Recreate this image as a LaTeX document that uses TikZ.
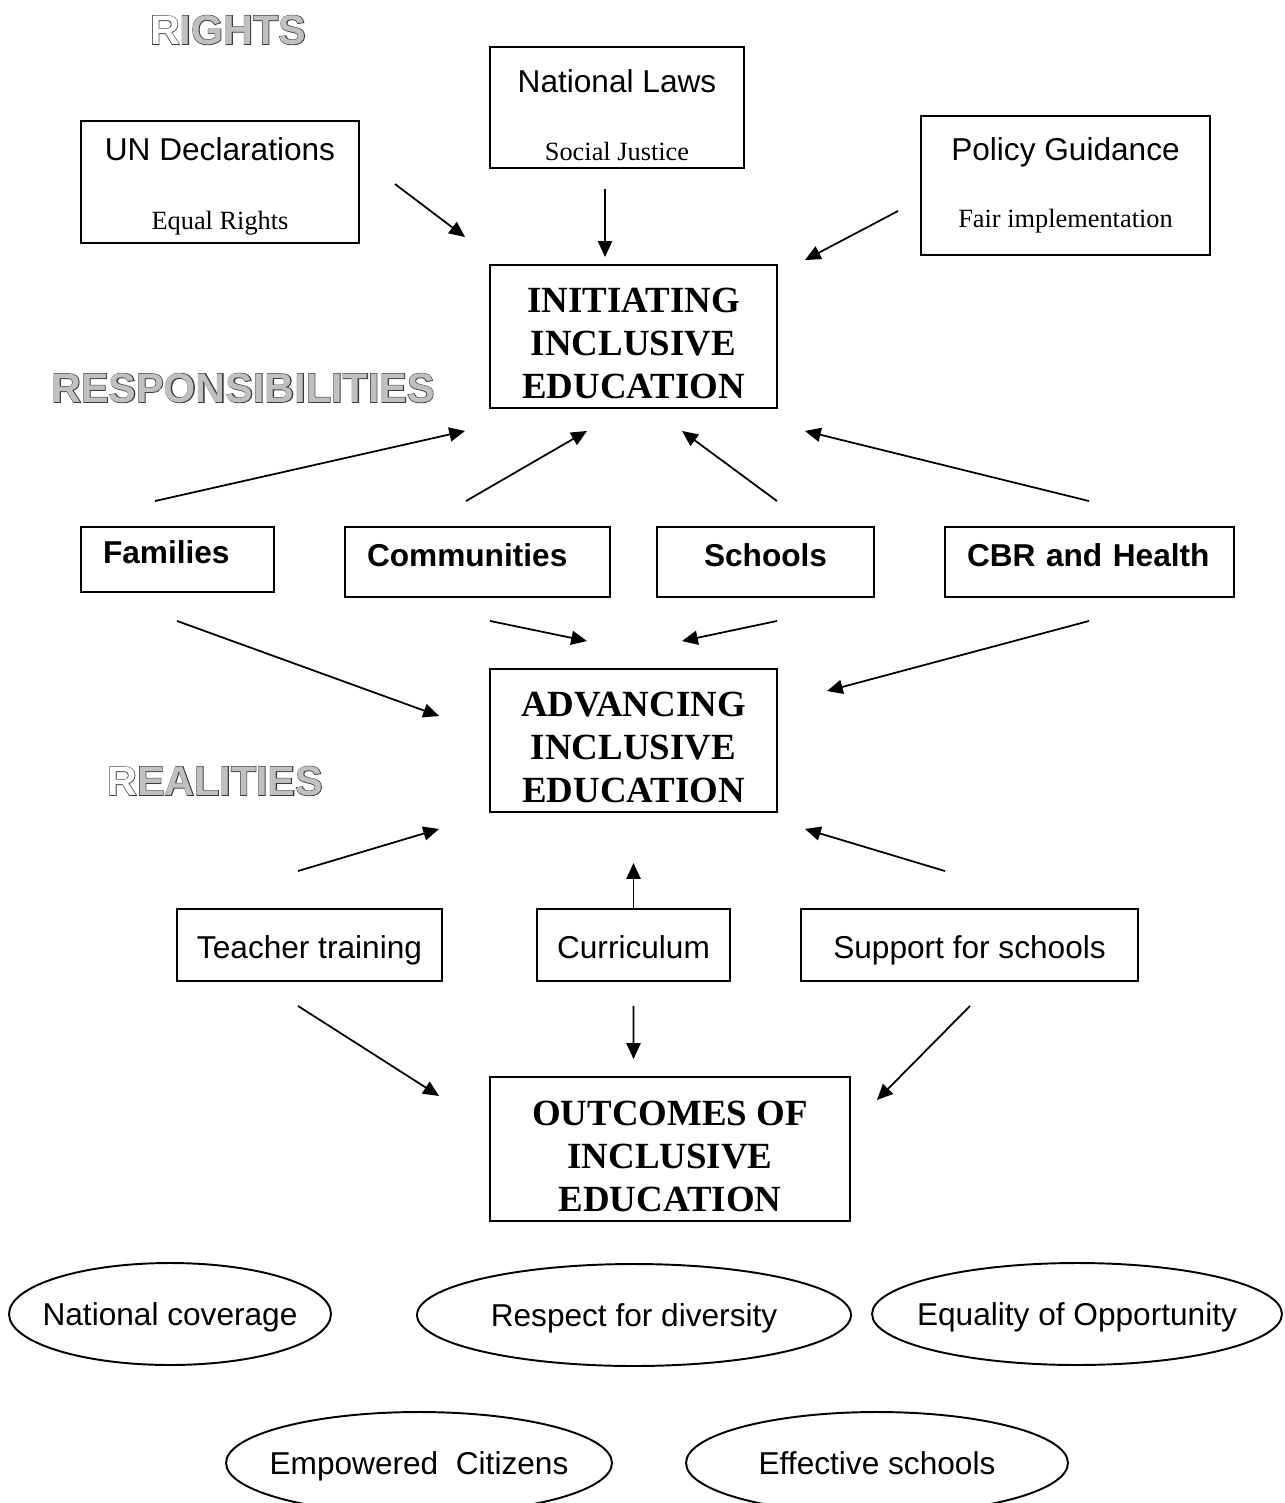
\documentclass[tikz,border=0pt]{standalone}
\usepackage{fontspec}
\setmainfont{Liberation Serif}
\setsansfont{Liberation Sans}
\newfontfamily\headfill{Liberation Sans Bold}
\newfontfamily\headrim{Liberation Sans Bold}[FakeBold=3]
\usepackage{tikz}
\usetikzlibrary{shapes.geometric,arrows.meta,positioning}
\definecolor{rimgrey}{RGB}{60,60,60}
\definecolor{fillgrey}{RGB}{192,192,192}

% outlined grey headings: a thick dark layer with the filled letters on top,
% the first letter left hollow
\newcommand{\heading}[4]{%
  \node[headtext, text=rimgrey] (#1) at #2 {\headrim #3#4};
  \node[headtext, text=fillgrey] at (#1) {\headfill\textcolor{white}{#3}#4};}
% text of zero width, so the ellipse keeps its own size
\newcommand{\goaltext}[1]{\makebox[0pt]{#1}}
% taller first line, pushes a text block a little down
\newcommand{\lowstrut}[1]{\rule{0pt}{#1}}

\begin{document}
\begin{tikzpicture}[
    x=0.02cm, y=-0.02cm,
    box/.style={rectangle, draw, line width=1.1pt, inner sep=0pt, align=center,
        font=\sffamily\fontsize{18}{21}\selectfont},
    oneline/.style={text height=17pt, text depth=2pt},
    bigbox/.style={box, font=\rmfamily\bfseries\fontsize{21}{24.4}\selectfont},
    tag/.style={box, text height=10pt, text depth=5pt, font=\sffamily\bfseries\fontsize{18}{21}\selectfont},
    goal/.style={ellipse, draw, line width=1.1pt, inner sep=0pt, text height=16pt, text depth=3pt,
        minimum height=2.04cm, font=\sffamily\fontsize{18}{21}\selectfont},
    headtext/.style={inner sep=0pt, font=\fontsize{23.5}{26}\selectfont},
    arr/.style={-{Triangle[length=9pt,width=8pt]}, line width=1pt},
]
\useasboundingbox (0,0) rectangle (1284,1503);

% headings
\heading{rights}{(228,30)}{R}{IGHTS}
\heading{resp}{(243,388)}{}{RESPONSIBILITIES}
\heading{real}{(215,781)}{R}{EALITIES}

% rights
\node[box, minimum width=5.56cm, minimum height=2.44cm] (un) at (220,182)
    {\lowstrut{18pt}UN Declarations\\[18pt]{\rmfamily\fontsize{15}{18}\selectfont Equal Rights}};
\node[box, minimum width=5.08cm, minimum height=2.42cm] (laws) at (617,107.5)
    {\lowstrut{22pt}National Laws\\[18pt]{\rmfamily\fontsize{15}{18}\selectfont Social Justice}};
\node[box, minimum width=5.78cm, minimum height=2.78cm] (policy) at (1065.5,185.5)
    {Policy Guidance\\[17pt]{\rmfamily\fontsize{15}{18}\selectfont Fair implementation}};

\node[bigbox, minimum width=5.74cm, minimum height=2.86cm] (init) at (633.5,336.5)
    {\lowstrut{22pt}INITIATING\\INCLUSIVE\\EDUCATION};

% responsibilities
\node[tag, minimum width=3.86cm, minimum height=1.30cm, text width=2.98cm, align=left] (fam) at (177.5,559.5) {Families};
\node[tag, minimum width=5.30cm, minimum height=1.40cm, text width=4.42cm, align=left] (com) at (477.5,562) {Communities};
\node[tag, minimum width=4.34cm, minimum height=1.40cm] (sch) at (765.5,562) {Schools};
\node[tag, minimum width=5.78cm, minimum height=1.40cm, text width=4.90cm, align=left] (cbr) at (1089.5,562) {CBR and Health};

\node[bigbox, minimum width=5.74cm, minimum height=2.86cm] (adv) at (633.5,740.5)
    {\lowstrut{22pt}ADVANCING\\INCLUSIVE\\EDUCATION};

% realities
\node[box, oneline, minimum width=5.30cm, minimum height=1.44cm] (teach) at (309.5,945) {Teacher training};
\node[box, oneline, minimum width=3.86cm, minimum height=1.44cm] (curr) at (633.5,945) {Curriculum};
\node[box, oneline, minimum width=6.74cm, minimum height=1.44cm] (supp) at (969.5,945) {Support for schools};

\node[bigbox, minimum width=7.20cm, minimum height=2.88cm] (out) at (670,1149)
    {\lowstrut{22pt}OUTCOMES OF\\INCLUSIVE\\EDUCATION};

% outcomes
\node[goal, minimum width=6.44cm] (cover) at (170,1314) {\goaltext{National coverage}};
\node[goal, minimum width=8.68cm] (divers) at (634,1315) {\goaltext{Respect for diversity}};
\node[goal, minimum width=8.20cm] (equal) at (1077,1314) {\goaltext{Equality of Opportunity}};
\node[goal, minimum width=7.72cm] (citiz) at (419,1463) {\goaltext{Empowered\ \ Citizens}};
\node[goal, minimum width=7.64cm] (effect) at (877,1463) {\goaltext{Effective schools}};

% arrows into the first level
\draw[arr] ([shift={(35,2)}]un.east) -- ([shift={(-24,-27)}]init.north west);
\draw[arr] ([shift={(-12,20)}]laws.south) -- ([shift={(-28.5,-7)}]init.north);
\draw[arr] ([shift={(-22,25.5)}]policy.west) -- ([shift={(27,-4)}]init.north east);

\draw[arr] ([shift={(-22.5,-25)}]fam.north) -- ([shift={(-24,22)}]init.south west);
\draw[arr] ([shift={(-11.5,-25)}]com.north) -- ([shift={(-46.5,22)}]init.south);
\draw[arr] ([shift={(11.5,-25)}]sch.north) -- ([shift={(48.5,22)}]init.south);
\draw[arr] ([shift={(-0.5,-25)}]cbr.north) -- ([shift={(27,22)}]init.south east);

% arrows into the second level
\draw[arr] ([shift={(-0.5,28)}]fam.south) -- ([shift={(-50,-24.5)}]adv.west);
\draw[arr] ([shift={(12.5,23)}]com.south) -- ([shift={(-46.5,-27)}]adv.north);
\draw[arr] ([shift={(11.5,23)}]sch.south) -- ([shift={(48.5,-27)}]adv.north);
\draw[arr] ([shift={(-0.5,23)}]cbr.south) -- ([shift={(49,23)}]adv.north east);

\draw[arr] ([shift={(-11.5,-37)}]teach.north) -- ([shift={(-50,16)}]adv.south west);
\draw[arr] (curr.north) -- ([shift={(0,50)}]adv.south);
\draw[arr] ([shift={(-24.5,-37)}]supp.north) -- ([shift={(27,16)}]adv.south east);

% arrows into the outcomes
\draw[arr] ([shift={(-11.5,24)}]teach.south) -- ([shift={(-50,-53)}]out.west);
\draw[arr] ([shift={(0,24)}]curr.south) -- ([shift={(-36.5,-17)}]out.north);
\draw[arr] ([shift={(0.5,24)}]supp.south) -- ([shift={(26,24)}]out.north east);
\end{tikzpicture}
\end{document}
